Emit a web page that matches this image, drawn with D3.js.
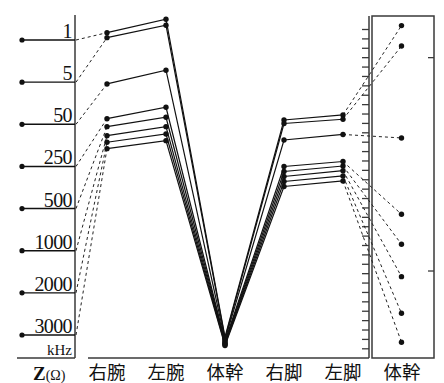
<!DOCTYPE html>
<html>
<head>
<meta charset="utf-8">
<script src="https://cdn.jsdelivr.net/npm/d3@7"></script>
<style>
  html, body { margin: 0; padding: 0; background: #fff; }
  svg { display: block; }
  .serif { font-family: "Liberation Serif", "DejaVu Serif", serif; }
  .cjk { font-family: "Noto Sans CJK JP", "Noto Sans CJK SC", sans-serif; }
</style>
</head>
<body>
<svg id="chart" width="444" height="383"></svg>
<script>
// Measurement frequencies (kHz), top to bottom on the left axis
const freqs = ["1", "5", "50", "250", "500", "1000", "2000", "3000"];
// Body segments on the main panel
const segments = ["右腕", "左腕", "体幹", "右脚", "左脚"];
const panelLabel = "体幹";

// Relative impedance per segment, one value per frequency (same order as freqs)
const rightArm   = [33.61, 33.08, 28.15, 24.45, 23.60, 22.64, 21.94, 21.26];
const leftArm    = [35.04, 34.40, 29.61, 25.67, 24.60, 23.60, 22.82, 22.11];
const trunk      = [1.20, 1.05, 0.90, 0.75, 0.60, 0.50, 0.40, 0.30];
const rightLeg   = [24.31, 23.94, 22.18, 19.36, 18.83, 18.30, 17.76, 17.23];
const leftLeg    = [24.85, 24.39, 22.77, 19.89, 19.41, 18.91, 18.35, 17.82];
// Trunk values on the enlarged side panel
const trunkPanel = [34.36, 32.19, 22.40, 14.27, 11.08, 7.63, 3.73, 0.64];
// Reference marks on the inside of the side panel
const panelMarks = [30.95, 8.23];

const segmentValues = [rightArm, leftArm, trunk, rightLeg, leftLeg];

const svg = d3.select("#chart");
const ink = "#111";
const axisInk = "#3a3a3a";

// Scales
const y = d3.scaleLinear().domain([0, 34]).range([348.3, 29.0]);
const x = d3.scalePoint().domain(segments).range([107, 343]);
const xPanel = 401.5;
const fy = d3.scalePoint().domain(freqs).range([40, 335]);

const axisX = 75, baseY = 358, axisTop = 15;

// ---- Left frequency axis ----
const left = svg.append("g");
left.append("line").attr("x1", axisX).attr("x2", axisX).attr("y1", axisTop).attr("y2", baseY)
  .attr("stroke", axisInk).attr("stroke-width", 1.5);
left.append("line").attr("x1", 17).attr("x2", axisX).attr("y1", baseY).attr("y2", baseY)
  .attr("stroke", axisInk).attr("stroke-width", 1.5);
const ft = left.selectAll("g.f").data(freqs).join("g").attr("class", "f")
  .attr("transform", d => `translate(0,${fy(d)})`);
ft.append("line").attr("x1", 22).attr("x2", axisX).attr("stroke", ink).attr("stroke-width", 1.4);
ft.append("circle").attr("cx", 22).attr("r", 2.6).attr("fill", ink);
ft.append("text").attr("class", "serif").attr("x", 72).attr("y", -2).attr("text-anchor", "end")
  .attr("font-size", 20).attr("letter-spacing", -0.6).attr("fill", ink).text(d => d);
left.append("text").attr("class", "serif").attr("x", 72).attr("y", 355).attr("text-anchor", "end")
  .attr("font-size", 15).attr("fill", ink).text("kHz");
const zt = left.append("text").attr("class", "serif").attr("x", 33).attr("y", 380).attr("fill", ink);
zt.append("tspan").attr("font-size", 19).attr("font-weight", "bold").text("Z");
zt.append("tspan").attr("font-size", 14).text("(Ω)");

// ---- Main panel frame ----
svg.append("line").attr("x1", 88).attr("x2", 369).attr("y1", baseY).attr("y2", baseY)
  .attr("stroke", axisInk).attr("stroke-width", 1.5);

// Tick axis shared by the main panel and side panel
const tickAxis = svg.append("g").attr("transform", "translate(369,0)")
  .call(d3.axisLeft(y).ticks(34).tickSize(7).tickSizeOuter(0).tickFormat(""));
tickAxis.select(".domain").remove();
tickAxis.selectAll(".tick line").attr("stroke", axisInk).attr("stroke-width", 1.3);
svg.append("line").attr("x1", 369).attr("x2", 369).attr("y1", 16).attr("y2", baseY)
  .attr("stroke", axisInk).attr("stroke-width", 1.5);

// Side panel box
svg.append("rect").attr("x", 372).attr("y", 16).attr("width", 62).attr("height", baseY - 16)
  .attr("fill", "none").attr("stroke", axisInk).attr("stroke-width", 1.5);
svg.selectAll("line.mark").data(panelMarks).join("line").attr("class", "mark")
  .attr("x1", 428).attr("x2", 434).attr("y1", d => y(d)).attr("y2", d => y(d))
  .attr("stroke", axisInk).attr("stroke-width", 1.3);

// ---- Dashed connectors ----
const dash = svg.append("g").attr("fill", "none").attr("stroke", "#222")
  .attr("stroke-width", 1).attr("stroke-dasharray", "3,3");
freqs.forEach((f, i) => {
  dash.append("line").attr("x1", axisX + 1).attr("y1", fy(f))
    .attr("x2", x(segments[0])).attr("y2", y(rightArm[i]));
  dash.append("line").attr("x1", x(segments[4])).attr("y1", y(leftLeg[i]))
    .attr("x2", xPanel).attr("y2", y(trunkPanel[i]));
});

// ---- Solid segment profiles ----
const line = d3.line().x(d => x(d.seg)).y(d => y(d.v));
const profiles = freqs.map((f, i) => segments.map((s, j) => ({ seg: s, v: segmentValues[j][i] })));
svg.append("g").selectAll("path").data(profiles).join("path")
  .attr("d", line).attr("fill", "none").attr("stroke", ink).attr("stroke-width", 1.2);

// ---- Points ----
const pts = svg.append("g").attr("fill", ink);
profiles.forEach(p => {
  pts.append("g").selectAll("circle").data(p).join("circle")
    .attr("cx", d => x(d.seg)).attr("cy", d => y(d.v)).attr("r", 2.7);
});
pts.append("g").selectAll("circle").data(trunkPanel).join("circle")
  .attr("cx", xPanel).attr("cy", d => y(d)).attr("r", 2.7);

// ---- Category labels ----
svg.selectAll("text.cat").data(segments).join("text").attr("class", "cat cjk")
  .attr("x", d => x(d)).attr("y", 378.5).attr("text-anchor", "middle")
  .attr("font-size", 18.5).attr("fill", ink).text(d => d);
svg.append("text").attr("class", "cjk").attr("x", 402).attr("y", 378.5).attr("text-anchor", "middle")
  .attr("font-size", 18.5).attr("fill", ink).text(panelLabel);
</script>
</body>
</html>
